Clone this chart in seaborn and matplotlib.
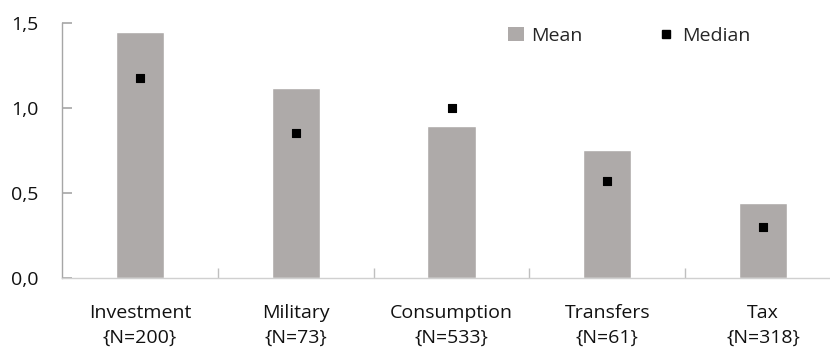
import matplotlib
matplotlib.use('Agg')
import matplotlib.pyplot as plt
import seaborn as sns
import pandas as pd
from matplotlib.lines import Line2D
from matplotlib.patches import Patch
from matplotlib.ticker import FuncFormatter, FixedLocator

# data
categories = ['Investment', 'Military', 'Consumption', 'Transfers', 'Tax']
counts = [200, 73, 533, 61, 318]
mean_vals = [1.447, 1.120, 0.894, 0.755, 0.443]
median_vals = [1.176, 0.853, 0.998, 0.570, 0.300]

labels = [f'{c}\n{{N={n}}}' for c, n in zip(categories, counts)]
df = pd.DataFrame({'label': labels, 'mean': mean_vals, 'median': median_vals})

sns.set_style('white')
plt.rcParams['font.family'] = ['Open Sans', 'DejaVu Sans']

bar_col = '#aeaaa9'
fig = plt.figure(figsize=(8.3, 3.5), dpi=100)
ax = fig.add_axes([62 / 830, 72 / 350, 779 / 830, 255 / 350])

sns.barplot(data=df, x='label', y='mean', color=bar_col, width=0.31,
            saturation=1, ax=ax)
sns.scatterplot(data=df, x='label', y='median', marker='s', s=40,
                color='black', edgecolor='black', linewidth=0.8, ax=ax, zorder=3)

ax.set_xlim(-0.5, 4.5)
ax.set_ylim(0, 1.5)
ax.set_yticks([0, 0.5, 1.0, 1.5])
ax.yaxis.set_major_formatter(FuncFormatter(lambda v, p: f'{v:.1f}'.replace('.', ',')))
ax.set_xlabel('')
ax.set_ylabel('')

for s in ['top', 'right']:
    ax.spines[s].set_visible(False)
ax.spines['left'].set_color('#a6a6a6')
ax.spines['bottom'].set_color('#d0d0d0')
ax.spines['left'].set_linewidth(1.0)
ax.spines['bottom'].set_linewidth(1.0)

ax.tick_params(axis='y', which='major', left=True, direction='in', length=7,
               width=1.2, color='#a6a6a6', labelsize=14, pad=17,
               labelcolor='#111111')
ax.tick_params(axis='x', which='major', bottom=True, length=0, labelsize=14,
               pad=19, labelcolor='#111111')
ax.xaxis.set_minor_locator(FixedLocator([0.5, 1.5, 2.5, 3.5]))
ax.tick_params(axis='x', which='minor', bottom=True, direction='in', length=7,
               width=1.0, color='#bfbfbf')
for t in ax.get_xticklabels():
    t.set_linespacing(1.45)

handles = [Patch(facecolor=bar_col, edgecolor='none', label='Mean'),
           Line2D([], [], marker='s', color='black', linestyle='none',
                  markersize=6, label='Median')]
ax.legend(handles=handles, loc='upper right', bbox_to_anchor=(700 / 779, 1.03),
          ncol=2, frameon=False, fontsize=14, handlelength=0.8,
          handletextpad=0.4, columnspacing=3.9, borderaxespad=0.2)

fig.savefig('out.png', dpi=100)
